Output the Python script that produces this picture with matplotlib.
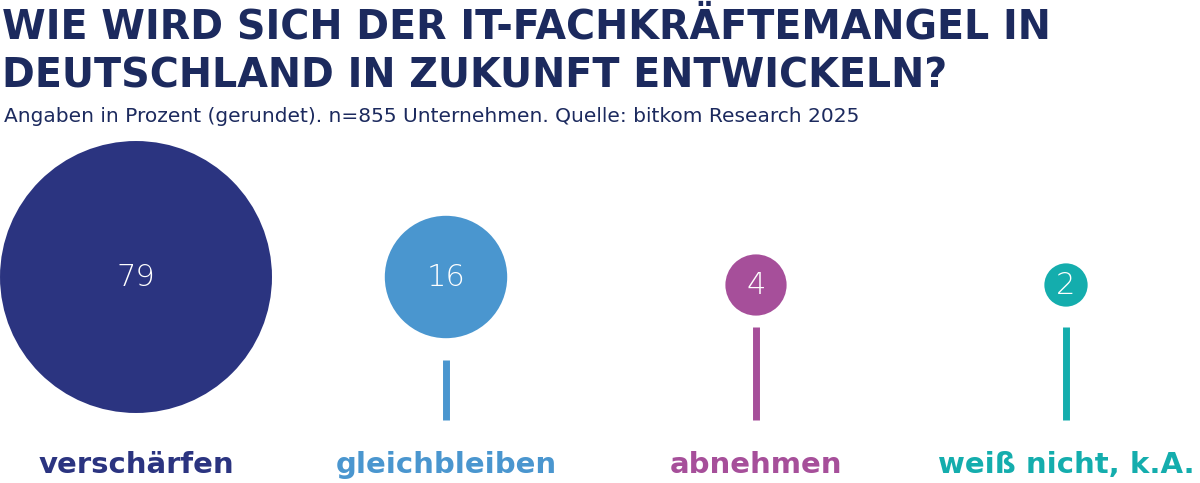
import matplotlib
matplotlib.use("Agg")
import matplotlib.pyplot as plt
from matplotlib.patches import Circle
import numpy as np

categories = ["verschärfen", "gleichbleiben", "abnehmen", "weiß nicht, k.A."]
values = [79, 16, 4, 2]
colors = ["#2b3480", "#4a96cf", "#a64f9a", "#14adad"]
title = "WIE WIRD SICH DER IT-FACHKRÄFTEMANGEL IN\nDEUTSCHLAND IN ZUKUNFT ENTWICKELN?"
subtitle = "Angaben in Prozent (gerundet). n=855 Unternehmen. Quelle: bitkom Research 2025"

fig = plt.figure(figsize=(12, 4.83), dpi=100)
ax = fig.add_axes([0, 0, 1, 1])
ax.set_xlim(0, 1200)
ax.set_ylim(483, 0)
ax.axis("off")

navy = "#1c2a5e"
fig.text(0.002, 0.985, title, ha="left", va="top", fontsize=28.5, fontweight="bold",
         color=navy, family="DejaVu Sans", linespacing=1.3)
fig.text(0.003, 0.758, subtitle, ha="left", va="center", fontsize=14.5, color=navy,
         family="DejaVu Sans")

k = 15.3
xs = [136, 446, 756, 1066]
for i, (cat, v, c) in enumerate(zip(categories, values, colors)):
    r = k * np.sqrt(v)
    cx = xs[i]
    cy = 277 if v >= 10 else 285
    ax.add_patch(Circle((cx, cy), r, color=c, lw=0))
    ax.text(cx, cy, str(v), ha="center", va="center", color="white", fontsize=22,
            family="DejaVu Sans", fontweight="light")
    if i > 0:
        top = 360 if i == 1 else 327
        ax.plot([cx, cx], [top, 420], color=c, lw=5, solid_capstyle="butt")
    ax.text(cx, 465, cat, ha="center", va="center", color=c, fontsize=21,
            fontweight="bold", family="DejaVu Sans")

fig.savefig("out.png", dpi=100)
